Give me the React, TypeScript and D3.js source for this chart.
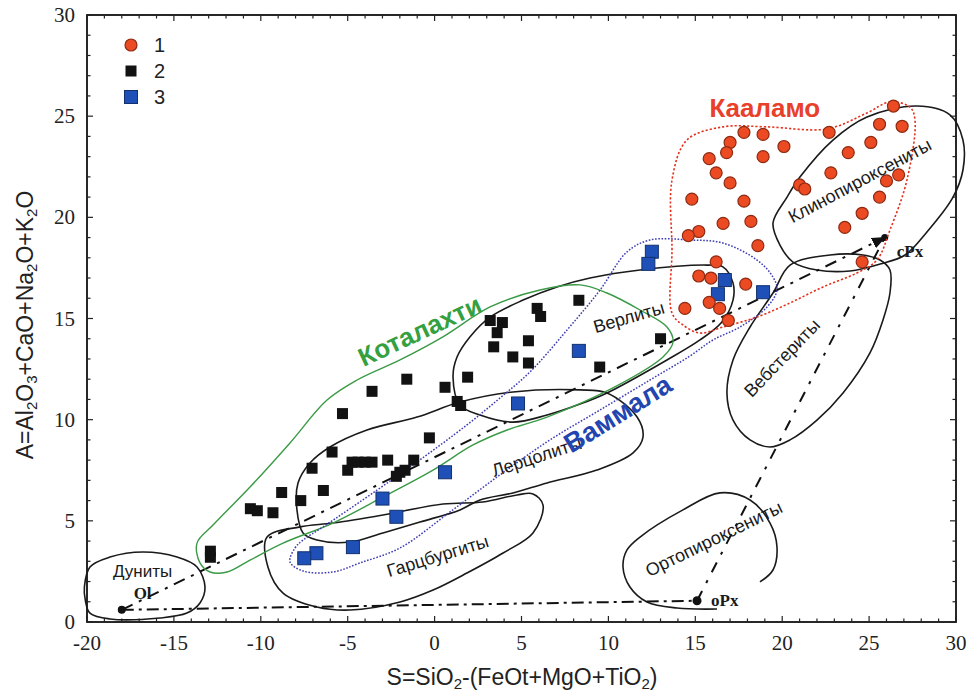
import React from 'react';
import * as d3 from 'd3';

const W = 971;
const H = 693;
const X_DOMAIN: [number, number] = [-20, 30];
const Y_DOMAIN: [number, number] = [0, 30];
const xTickValues = [-20, -15, -10, -5, 0, 5, 10, 15, 20, 25, 30];
const yTickValues = [0, 5, 10, 15, 20, 25, 30];
const legendItems = ['1', '2', '3'];

// 1 — Kaalamo (red circles)
const group1: number[][] = [
  [26.4, 25.5], [17.8, 24.2], [18.9, 24.1], [17.0, 23.7], [22.7, 24.2], [25.6, 24.6], [26.9, 24.5],
  [16.8, 23.2], [20.1, 23.5], [18.9, 23.0], [25.1, 23.7], [23.8, 23.2], [15.8, 22.9], [16.2, 22.2],
  [17.0, 21.7], [22.8, 22.2], [26.0, 21.8], [26.7, 22.1], [21.0, 21.6], [21.3, 21.4], [14.8, 20.9],
  [17.8, 20.8], [25.6, 21.0], [16.6, 19.7], [18.2, 19.8], [24.6, 20.2], [15.2, 19.3], [14.6, 19.1],
  [23.6, 19.5], [18.6, 18.6], [16.2, 17.8], [24.6, 17.8], [15.2, 17.1], [15.9, 17.0], [17.9, 16.7],
  [15.8, 15.8], [16.4, 15.5], [14.4, 15.5], [16.9, 14.9],
];

// 2 — Kotalahti (black squares)
const group2: number[][] = [
  [8.3, 15.9], [5.9, 15.5], [6.1, 15.1], [3.2, 14.9], [3.9, 14.8], [3.6, 14.3], [3.4, 13.6],
  [5.4, 13.9], [4.5, 13.1], [5.4, 12.8], [1.9, 12.1], [0.6, 11.6], [1.3, 10.9], [1.5, 10.7],
  [13.0, 14.0], [9.5, 12.6], [-1.6, 12.0], [-3.6, 11.4], [-5.3, 10.3], [-0.3, 9.1], [-5.9, 8.4],
  [-4.75, 7.9], [-4.4, 7.9], [-4.0, 7.9], [-3.6, 7.9], [-5.0, 7.5], [-2.7, 8.0], [-1.2, 8.0],
  [-2.0, 7.4], [-1.7, 7.5], [-2.2, 7.2], [-6.4, 6.5], [-7.05, 7.6], [-8.8, 6.4], [-7.7, 6.0],
  [-9.3, 5.4], [-10.6, 5.6], [-10.2, 5.5], [-12.9, 3.5], [-12.9, 3.2],
];

// 3 — Vammala (blue squares)
const group3: number[][] = [
  [12.5, 18.3], [12.3, 17.7], [16.7, 16.9], [16.3, 16.2], [18.9, 16.3], [8.3, 13.4], [4.8, 10.8],
  [0.6, 7.4], [-3.0, 6.1], [-2.2, 5.2], [-4.7, 3.7], [-6.8, 3.4], [-7.5, 3.15],
];

// rock-type fields
const fieldDunite: number[][] = [
  [-20.15, 1.73], [-19.83, 2.72], [-18.68, 3.21], [-16.78, 3.46], [-14.82, 3.21], [-13.67, 2.72],
  [-13.21, 1.73], [-13.5, 0.94], [-14.25, 0.44], [-15.8, 0.2], [-18.68, 0.15], [-19.83, 0.44], [-20.1, 1.09],
];
const fieldHarzburgite: number[][] = [
  [-9.64, 4.2], [-7.74, 4.7], [-5.85, 4.89], [-2.97, 5.29], [0.48, 5.83], [2.78, 5.93], [4.74, 6.28],
  [5.66, 6.33], [6.24, 5.78], [5.66, 4.4], [3.94, 3.41], [1.86, 2.42], [-0.09, 1.58], [-1.99, 0.99],
  [-4.87, 0.59], [-6.77, 0.74], [-8.72, 1.43], [-9.59, 2.72],
];
const fieldLherzolite: number[][] = [
  [-6.02, 8.65], [-3.89, 9.49], [-1.01, 10.13], [1.46, 10.87], [4.51, 11.37], [8.37, 11.47],
  [9.92, 11.32], [11.65, 10.13], [11.99, 9.14], [11.42, 8.36], [9.34, 7.51], [6.47, 6.87],
  [4.51, 6.38], [2.61, 6.03], [1.46, 5.54], [-0.84, 4.94], [-2.97, 4.4], [-4.87, 3.95],
  [-6.77, 4.05], [-7.57, 4.4], [-7.92, 5.54], [-7.86, 6.87], [-7.17, 7.86],
];
const fieldWehrlite: number[][] = [
  [1.46, 10.73], [1.06, 12.11], [1.29, 13.1], [2.03, 14.09], [3.19, 15.07], [5.09, 15.91],
  [7.04, 16.56], [8.94, 17.0], [11.82, 17.4], [15.67, 17.64], [16.59, 17.55], [17.17, 16.75],
  [17.17, 15.91], [16.53, 14.83], [15.27, 13.94], [13.37, 12.95], [9.92, 11.32], [8.37, 10.77],
  [6.47, 10.23], [4.51, 9.88], [2.61, 10.23],
];
const fieldWebsterite: number[][] = [
  [20.45, 17.64], [19.47, 16.26], [18.15, 14.58], [17.17, 12.95], [16.82, 11.32], [17.17, 9.98],
  [18.15, 9.0], [19.3, 8.65], [20.45, 9.0], [22.0, 9.98], [23.5, 11.32], [25.05, 13.3],
  [25.8, 14.93], [26.2, 16.26], [26.2, 17.4], [25.63, 17.89], [24.65, 18.14], [22.75, 18.14],
];
const fieldClinopyroxenite: number[][] = [
  [19.47, 19.72], [20.28, 21.0], [21.02, 21.99], [22.92, 23.82], [24.88, 24.96], [27.76, 25.5],
  [29.65, 25.06], [30.4, 23.82], [30.4, 22.34], [29.83, 21.0], [28.33, 19.28], [27.07, 18.14],
  [25.63, 17.69], [23.9, 17.35], [22.0, 17.4], [20.62, 17.79], [19.87, 18.63],
];
const fieldOrthopyroxenite: number[][] = [
  [16.25, 0.64], [13.95, 0.69], [12.22, 0.99], [11.24, 1.73], [10.84, 2.72], [11.07, 3.56],
  [11.82, 4.2], [14.29, 5.54], [16.42, 6.38], [18.15, 6.03], [19.3, 4.89], [19.7, 3.71],
  [19.47, 2.57], [18.72, 1.98],
];

// intrusion outlines
const outlineKotalahti: number[][] = [
  [-13.67, 3.9], [-13.5, 2.92], [-12.92, 2.47], [-11.94, 2.47], [-10.62, 3.06], [-8.72, 3.9],
  [-5.85, 4.89], [-2.97, 6.18], [-0.09, 7.51], [2.21, 8.75], [4.17, 9.49], [6.47, 10.13],
  [10.26, 11.57], [13.14, 13.1], [13.72, 13.84], [13.37, 14.58], [11.82, 15.42], [9.92, 16.26],
  [8.37, 16.66], [6.06, 16.41], [3.19, 15.57], [0.48, 14.09], [-1.99, 12.95], [-4.46, 11.96],
  [-6.19, 10.97], [-8.32, 8.85], [-10.62, 6.67], [-12.75, 4.79],
];
const outlineVammala: number[][] = [
  [-8.32, 2.97], [-8.03, 3.66], [-7.57, 4.05], [-6.42, 4.7], [-3.31, 6.52], [-1.01, 7.91],
  [1.86, 9.74], [3.76, 11.07], [5.49, 12.36], [7.62, 14.43], [9.52, 16.41], [11.07, 18.29],
  [12.39, 18.88], [14.7, 18.88], [16.59, 18.73], [18.55, 17.89], [19.47, 17.05], [19.7, 16.41],
  [19.13, 15.57], [17.57, 14.58], [16.02, 13.94], [14.7, 13.15], [12.39, 11.96], [9.52, 10.48],
  [6.64, 9.0], [3.76, 7.27], [0.89, 5.44], [-1.99, 3.66], [-4.29, 2.92], [-5.85, 2.47], [-7.57, 2.52],
];
const outlineKaalamo: number[][] = [
  [13.66, 15.27], [13.66, 18.39], [13.66, 21.85], [14.52, 23.82], [16.59, 24.47], [19.13, 24.47],
  [22.58, 24.37], [24.88, 25.16], [26.2, 25.7], [27.35, 25.45], [27.64, 24.81], [27.18, 21.85],
  [26.2, 19.37], [25.45, 17.89], [24.3, 17.25], [22.35, 16.56], [20.45, 15.77], [18.55, 15.07],
  [16.59, 14.58], [15.27, 14.28], [14.29, 14.68],
];

// mineral end-members
const pointOl = [-18.0, 0.6];
const pointOpx = [15.1, 1.05];
const pointCpx = [25.9, 19.0];

const fieldLabels = [
  { text: 'Гарцбургиты', x: 0.2, y: 3.2, angle: -17 },
  { text: 'Лерцолиты', x: 5.9, y: 8.1, angle: -18 },
  { text: 'Верлиты', x: 11.2, y: 15.0, angle: -16 },
  { text: 'Вебстериты', x: 20.05, y: 13.0, angle: -46 },
  { text: 'Клинопироксениты', x: 24.5, y: 21.75, angle: -28 },
  { text: 'Ортопироксениты', x: 16.1, y: 4.05, angle: -26 },
];

export default function App() {
  const x = d3.scaleLinear().domain(X_DOMAIN).range([87, 956]);
  const y = d3.scaleLinear().domain(Y_DOMAIN).range([622, 15]);
  const closed = d3
    .line<number[]>()
    .x((d) => x(d[0]))
    .y((d) => y(d[1]))
    .curve(d3.curveCatmullRomClosed.alpha(0.5));
  const open = d3
    .line<number[]>()
    .x((d) => x(d[0]))
    .y((d) => y(d[1]))
    .curve(d3.curveCatmullRom.alpha(0.5));
  const seg = d3
    .line<number[]>()
    .x((d) => x(d[0]))
    .y((d) => y(d[1]));

  const [x0, x1] = x.range();
  const [y0, y1] = y.range();
  const minorX = d3.range(X_DOMAIN[0], X_DOMAIN[1] + 1, 1);
  const minorY = d3.range(Y_DOMAIN[0], Y_DOMAIN[1] + 1, 1);

  const serif = "'Liberation Serif', 'DejaVu Serif', serif";
  const sans = "'Liberation Sans', Arial, sans-serif";
  const sq2 = 11;
  const sq3 = 13;

  return (
    <div>
      <style>{'body{margin:0;background:#fff}'}</style>
      <svg width={W} height={H} style={{ display: 'block' }}>
        <defs>
          <marker id="arr" viewBox="0 0 10 10" refX="9" refY="5" markerWidth="7" markerHeight="7" orient="auto">
            <path d="M0,1 L10,5 L0,9 z" fill="#111" />
          </marker>
        </defs>
        <rect x={0} y={0} width={W} height={H} fill="#fff" />

        {/* frame */}
        <rect x={x0} y={y1} width={x1 - x0} height={y0 - y1} fill="none" stroke="#111" strokeWidth={1.8} />
        {minorX.map((v) => {
          const major = v % 5 === 0;
          const l = major ? 6 : 3.5;
          return (
            <g key={'tx' + v}>
              <line x1={x(v)} x2={x(v)} y1={y0} y2={y0 - l} stroke="#222" strokeWidth={1.2} />
              <line x1={x(v)} x2={x(v)} y1={y1} y2={y1 + l} stroke="#222" strokeWidth={1.2} />
            </g>
          );
        })}
        {minorY.map((v) => {
          const major = v % 5 === 0;
          const l = major ? 6 : 3.5;
          return (
            <g key={'ty' + v}>
              <line x1={x0} x2={x0 + l} y1={y(v)} y2={y(v)} stroke="#222" strokeWidth={1.2} />
              <line x1={x1} x2={x1 - l} y1={y(v)} y2={y(v)} stroke="#222" strokeWidth={1.2} />
            </g>
          );
        })}
        {xTickValues.map((v) => (
          <text key={'lx' + v} x={x(v)} y={y0 + 28} textAnchor="middle" fontFamily={serif} fontSize={21} fill="#222">
            {v}
          </text>
        ))}
        {yTickValues.map((v) => (
          <text key={'ly' + v} x={75} y={y(v) + 7} textAnchor="end" fontFamily={serif} fontSize={21} fill="#222">
            {v}
          </text>
        ))}

        {/* axis titles */}
        <text x={522} y={685} textAnchor="middle" fontFamily={sans} fontSize={23} fill="#222">
          <tspan>S=SiO</tspan>
          <tspan fontSize={15} dy={4}>2</tspan>
          <tspan dy={-4}>-(FeOt+MgO+TiO</tspan>
          <tspan fontSize={15} dy={4}>2</tspan>
          <tspan dy={-4}>)</tspan>
        </text>
        <text
          transform={`translate(33,${325}) rotate(-90)`}
          textAnchor="middle"
          fontFamily={sans}
          fontSize={23}
          fill="#222"
        >
          <tspan>A=Al</tspan>
          <tspan fontSize={15} dy={4}>2</tspan>
          <tspan dy={-4}>O</tspan>
          <tspan fontSize={15} dy={4}>3</tspan>
          <tspan dy={-4}>+CaO+Na</tspan>
          <tspan fontSize={15} dy={4}>2</tspan>
          <tspan dy={-4}>O+K</tspan>
          <tspan fontSize={15} dy={4}>2</tspan>
          <tspan dy={-4}>O</tspan>
        </text>

        {/* rock-type fields */}
        {[fieldDunite, fieldHarzburgite, fieldLherzolite, fieldWehrlite, fieldWebsterite, fieldClinopyroxenite].map(
          (f, i) => (
            <path key={'f' + i} d={closed(f) || ''} fill="none" stroke="#1a1a1a" strokeWidth={1.6} />
          )
        )}
        <path d={open(fieldOrthopyroxenite) || ''} fill="none" stroke="#1a1a1a" strokeWidth={1.6} />

        {/* mixing lines */}
        <path d={seg([pointOl, pointOpx]) || ''} stroke="#111" strokeWidth={2} strokeDasharray="12,5,3,5" fill="none" />
        <path
          d={seg([pointOl, pointCpx]) || ''}
          stroke="#111"
          strokeWidth={2}
          strokeDasharray="12,7,3,7"
          fill="none"
          markerEnd="url(#arr)"
        />
        <path d={seg([pointOpx, pointCpx]) || ''} stroke="#111" strokeWidth={2} strokeDasharray="11,9,3,9" fill="none" />
        <circle cx={x(pointOl[0])} cy={y(pointOl[1])} r={4} fill="#111" />
        <circle cx={x(pointOpx[0])} cy={y(pointOpx[1])} r={4.5} fill="#111" />
        <circle cx={x(pointCpx[0])} cy={y(pointCpx[1])} r={3.5} fill="#111" />

        {/* intrusion outlines */}
        <path d={closed(outlineKotalahti) || ''} fill="none" stroke="#3a9a45" strokeWidth={1.4} />
        <path d={closed(outlineVammala) || ''} fill="none" stroke="#3c3cb4" strokeWidth={1.5} strokeDasharray="1.6,1.6" />
        <path d={closed(outlineKaalamo) || ''} fill="none" stroke="#e2321e" strokeWidth={1.6} strokeDasharray="2.2,2" />

        {/* points */}
        {group2.map((d, i) => (
          <rect key={'b' + i} x={x(d[0]) - sq2 / 2} y={y(d[1]) - sq2 / 2} width={sq2} height={sq2} fill="#121212" />
        ))}
        {group3.map((d, i) => (
          <rect
            key={'s' + i}
            x={x(d[0]) - sq3 / 2}
            y={y(d[1]) - sq3 / 2}
            width={sq3}
            height={sq3}
            fill="#1f50b8"
            stroke="#12306e"
            strokeWidth={1}
          />
        ))}
        {group1.map((d, i) => (
          <circle key={'r' + i} cx={x(d[0])} cy={y(d[1])} r={6} fill="#ec4a22" stroke="#8e2a12" strokeWidth={1.2} />
        ))}

        {/* field labels */}
        {fieldLabels.map((l) => (
          <text
            key={l.text}
            transform={`translate(${x(l.x)},${y(l.y)}) rotate(${l.angle})`}
            textAnchor="middle"
            dominantBaseline="middle"
            fontFamily={sans}
            fontSize={18}
            fill="#1a1a1a"
          >
            {l.text}
          </text>
        ))}
        <text x={x(-16.8)} y={y(2.5) + 6} textAnchor="middle" fontFamily={sans} fontSize={17} fill="#1a1a1a">
          Дуниты
        </text>
        <text x={x(-16.8)} y={y(1.45) + 6} textAnchor="middle" fontFamily={serif} fontWeight="bold" fontSize={17} fill="#1a1a1a">
          Ol
        </text>
        <text x={x(pointOpx[0]) + 14} y={y(pointOpx[1]) + 5} fontFamily={serif} fontWeight="bold" fontSize={17} fill="#1a1a1a">
          oPx
        </text>
        <text x={x(pointCpx[0]) + 12} y={y(pointCpx[1]) + 19} fontFamily={serif} fontWeight="bold" fontSize={17} fill="#1a1a1a">
          cPx
        </text>

        {/* intrusion labels */}
        <text
          transform={`translate(${x(-0.8)},${y(14.3)}) rotate(-25)`}
          textAnchor="middle"
          dominantBaseline="middle"
          fontFamily={sans}
          fontWeight="bold"
          fontSize={26}
          fill="#34a040"
        >
          Коталахти
        </text>
        <text
          transform={`translate(${x(10.6)},${y(10.2)}) rotate(-32)`}
          textAnchor="middle"
          dominantBaseline="middle"
          fontFamily={sans}
          fontWeight="bold"
          fontSize={27}
          fill="#2345b0"
        >
          Ваммала
        </text>
        <text
          x={x(19.0)}
          y={y(25.3)}
          textAnchor="middle"
          dominantBaseline="middle"
          fontFamily={sans}
          fontWeight="bold"
          fontSize={26}
          fill="#e8402a"
        >
          Кааламо
        </text>

        {/* legend */}
        {legendItems.map((t, i) => {
          const cy = 45 + i * 26;
          return (
            <g key={'lg' + t}>
              {i === 0 && <circle cx={131} cy={cy} r={6} fill="#ec4a22" stroke="#8e2a12" strokeWidth={1.2} />}
              {i === 1 && <rect x={131 - sq2 / 2} y={cy - sq2 / 2} width={sq2} height={sq2} fill="#121212" />}
              {i === 2 && (
                <rect x={131 - sq3 / 2} y={cy - sq3 / 2} width={sq3} height={sq3} fill="#1f50b8" stroke="#12306e" />
              )}
              <text x={154} y={cy + 7} fontFamily={sans} fontSize={20} fill="#222">
                {t}
              </text>
            </g>
          );
        })}
      </svg>
    </div>
  );
}
